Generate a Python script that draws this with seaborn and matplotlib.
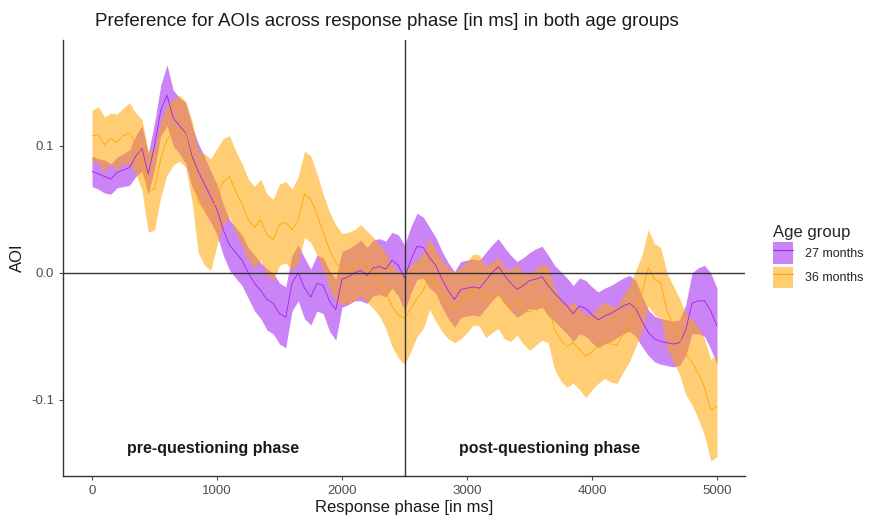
import numpy as np
import pandas as pd
import matplotlib
matplotlib.use("Agg")
import matplotlib.pyplot as plt
from matplotlib.patches import Patch
from matplotlib.lines import Line2D
import seaborn as sns

# Time bins of the response phase (ms)
time_ms = list(range(0, 5001, 50))

# Mean AOI preference per time bin, 27-month-olds
aoi_27 = [
    0.080, 0.078, 0.076, 0.074, 0.079, 0.081, 0.083, 0.092,
    0.098, 0.078, 0.100, 0.128, 0.140, 0.122, 0.116, 0.110,
    0.092, 0.080, 0.070, 0.060, 0.050, 0.034, 0.022, 0.016,
    0.010, 0.000, -0.008, -0.014, -0.021, -0.024, -0.032, -0.035,
    -0.008, 0.000, -0.012, -0.019, -0.008, -0.010, -0.022, -0.029,
    -0.005, -0.003, 0.000, 0.002, -0.002, 0.004, 0.005, 0.003,
    0.010, 0.006, -0.004, 0.010, 0.021, 0.020, 0.012, 0.006,
    -0.005, -0.014, -0.021, -0.013, -0.012, -0.011, -0.012, -0.006,
    0.000, 0.005, -0.002, -0.008, -0.013, -0.010, -0.006, -0.005,
    -0.003, -0.010, -0.016, -0.021, -0.026, -0.032, -0.026, -0.028,
    -0.033, -0.037, -0.034, -0.032, -0.029, -0.026, -0.024, -0.028,
    -0.038, -0.047, -0.052, -0.054, -0.055, -0.056, -0.055, -0.045,
    -0.024, -0.022, -0.022, -0.030, -0.042,
]
# Half-width of the confidence band, 27-month-olds
ci_27 = [
    0.012, 0.012, 0.013, 0.012, 0.012, 0.013, 0.014, 0.016,
    0.018, 0.016, 0.018, 0.020, 0.024, 0.022, 0.022, 0.024,
    0.024, 0.022, 0.022, 0.020, 0.020, 0.020, 0.020, 0.020,
    0.020, 0.020, 0.022, 0.022, 0.024, 0.024, 0.024, 0.024,
    0.022, 0.022, 0.024, 0.022, 0.022, 0.022, 0.024, 0.024,
    0.022, 0.022, 0.022, 0.024, 0.022, 0.022, 0.022, 0.022,
    0.022, 0.024, 0.026, 0.026, 0.026, 0.024, 0.024, 0.022,
    0.022, 0.022, 0.022, 0.022, 0.022, 0.022, 0.022, 0.022,
    0.022, 0.022, 0.022, 0.022, 0.022, 0.022, 0.022, 0.024,
    0.024, 0.024, 0.022, 0.022, 0.022, 0.022, 0.022, 0.022,
    0.022, 0.022, 0.022, 0.022, 0.022, 0.022, 0.022, 0.022,
    0.020, 0.018, 0.018, 0.018, 0.018, 0.018, 0.018, 0.020,
    0.024, 0.026, 0.028, 0.030, 0.030,
]

# Mean AOI preference per time bin, 36-month-olds
aoi_36 = [
    0.108, 0.109, 0.101, 0.106, 0.103, 0.108, 0.110, 0.102,
    0.093, 0.064, 0.066, 0.090, 0.105, 0.111, 0.114, 0.109,
    0.088, 0.056, 0.050, 0.046, 0.060, 0.072, 0.076, 0.064,
    0.054, 0.042, 0.036, 0.042, 0.030, 0.026, 0.038, 0.040,
    0.034, 0.042, 0.062, 0.058, 0.046, 0.032, 0.018, 0.008,
    0.003, 0.004, 0.006, 0.010, 0.005, 0.000, -0.006, -0.014,
    -0.026, -0.033, -0.036, -0.028, -0.020, -0.014, -0.001, -0.010,
    -0.018, -0.024, -0.027, -0.024, -0.019, -0.013, -0.014, -0.023,
    -0.019, -0.016, -0.024, -0.026, -0.021, -0.028, -0.031, -0.027,
    -0.023, -0.025, -0.044, -0.053, -0.058, -0.055, -0.060, -0.066,
    -0.062, -0.057, -0.053, -0.056, -0.057, -0.048, -0.040, -0.028,
    -0.016, 0.004, -0.005, -0.008, -0.030, -0.040, -0.050, -0.064,
    -0.070, -0.079, -0.090, -0.108, -0.105,
]
# Half-width of the confidence band, 36-month-olds
ci_36 = [
    0.020, 0.022, 0.022, 0.020, 0.022, 0.022, 0.024, 0.024,
    0.028, 0.032, 0.032, 0.030, 0.028, 0.026, 0.026, 0.026,
    0.032, 0.040, 0.044, 0.044, 0.038, 0.034, 0.032, 0.032,
    0.032, 0.032, 0.032, 0.032, 0.032, 0.032, 0.032, 0.032,
    0.032, 0.034, 0.034, 0.034, 0.032, 0.030, 0.030, 0.030,
    0.028, 0.028, 0.028, 0.028, 0.028, 0.028, 0.028, 0.030,
    0.032, 0.034, 0.036, 0.034, 0.030, 0.030, 0.028, 0.028,
    0.028, 0.028, 0.028, 0.028, 0.028, 0.028, 0.028, 0.028,
    0.028, 0.028, 0.028, 0.028, 0.028, 0.028, 0.030, 0.030,
    0.030, 0.030, 0.032, 0.032, 0.032, 0.032, 0.032, 0.032,
    0.030, 0.030, 0.030, 0.030, 0.030, 0.030, 0.030, 0.030,
    0.030, 0.030, 0.028, 0.028, 0.030, 0.030, 0.030, 0.032,
    0.034, 0.036, 0.038, 0.040, 0.040,
]

groups = ["27 months", "36 months"]
line_colors = {"27 months": "#A020F0", "36 months": "#FFA500"}
fill_alpha = 0.55

phase_split = 2500
phase_labels = ["pre-questioning phase", "post-questioning phase"]
phase_label_x = [970, 3660]

df = pd.concat([
    pd.DataFrame({"time": time_ms, "aoi": aoi_27, "ci": ci_27, "group": groups[0]}),
    pd.DataFrame({"time": time_ms, "aoi": aoi_36, "ci": ci_36, "group": groups[1]}),
], ignore_index=True)

sns.set_theme(style="ticks")
plt.rcParams["font.family"] = ["Liberation Sans", "DejaVu Sans"]

fig = plt.figure(figsize=(8.74, 5.18), dpi=100)
ax = fig.add_axes([63 / 874, 1 - 476 / 518, (745 - 63) / 874, (476 - 40) / 518])

# Confidence ribbons
for g in groups:
    sub = df[df["group"] == g]
    ax.fill_between(sub["time"], sub["aoi"] - sub["ci"], sub["aoi"] + sub["ci"],
                    color=line_colors[g], alpha=fill_alpha, linewidth=0, zorder=2)

# Mean lines
sns.lineplot(data=df, x="time", y="aoi", hue="group", palette=line_colors,
             linewidth=0.6, legend=False, ax=ax, zorder=3, errorbar=None)

ax.axhline(0, color="#333333", linewidth=1.0, zorder=4)
ax.axvline(phase_split, color="#333333", linewidth=1.0, zorder=4)

for lab, xp in zip(phase_labels, phase_label_x):
    ax.text(xp, -0.1385, lab, ha="center", va="center", fontsize=11.5,
            fontweight="bold", color="#1a1a1a")

ax.set_xlim(-232, 5224)
ax.set_ylim(-0.160, 0.1835)
ax.set_xticks([0, 1000, 2000, 3000, 4000, 5000])
ax.set_yticks([-0.1, 0.0, 0.1])
ax.set_yticklabels(["-0.1", "0.0", "0.1"])
ax.tick_params(axis="both", colors="#4d4d4d", labelsize=9.5, length=3, width=0.8,
               labelcolor="#4d4d4d")
for s in ["top", "right"]:
    ax.spines[s].set_visible(False)
for s in ["left", "bottom"]:
    ax.spines[s].set_color("#333333")
    ax.spines[s].set_linewidth(1.0)

ax.set_xlabel("Response phase [in ms]", fontsize=12, color="#1a1a1a", labelpad=2)
ax.set_ylabel("AOI", fontsize=12, color="#1a1a1a", labelpad=4)

fig.text(95 / 874, 1 - 22 / 518, "Preference for AOIs across response phase [in ms] in both age groups",
         ha="left", va="center", fontsize=13.5, color="#1a1a1a")

handles = [(Patch(facecolor=line_colors[g], alpha=fill_alpha, linewidth=0),
            Line2D([], [], color=line_colors[g], linewidth=0.8)) for g in groups]
leg = fig.legend(handles, groups, title="Age group", loc="upper left",
                 bbox_to_anchor=(764 / 874, 1 - 216 / 518), frameon=False,
                 fontsize=9, title_fontsize=12, handlelength=1.6, handleheight=2.3,
                 labelspacing=0.2, handletextpad=1.0, alignment="left",
                 borderaxespad=0.3)

fig.savefig("out.png", dpi=100)
